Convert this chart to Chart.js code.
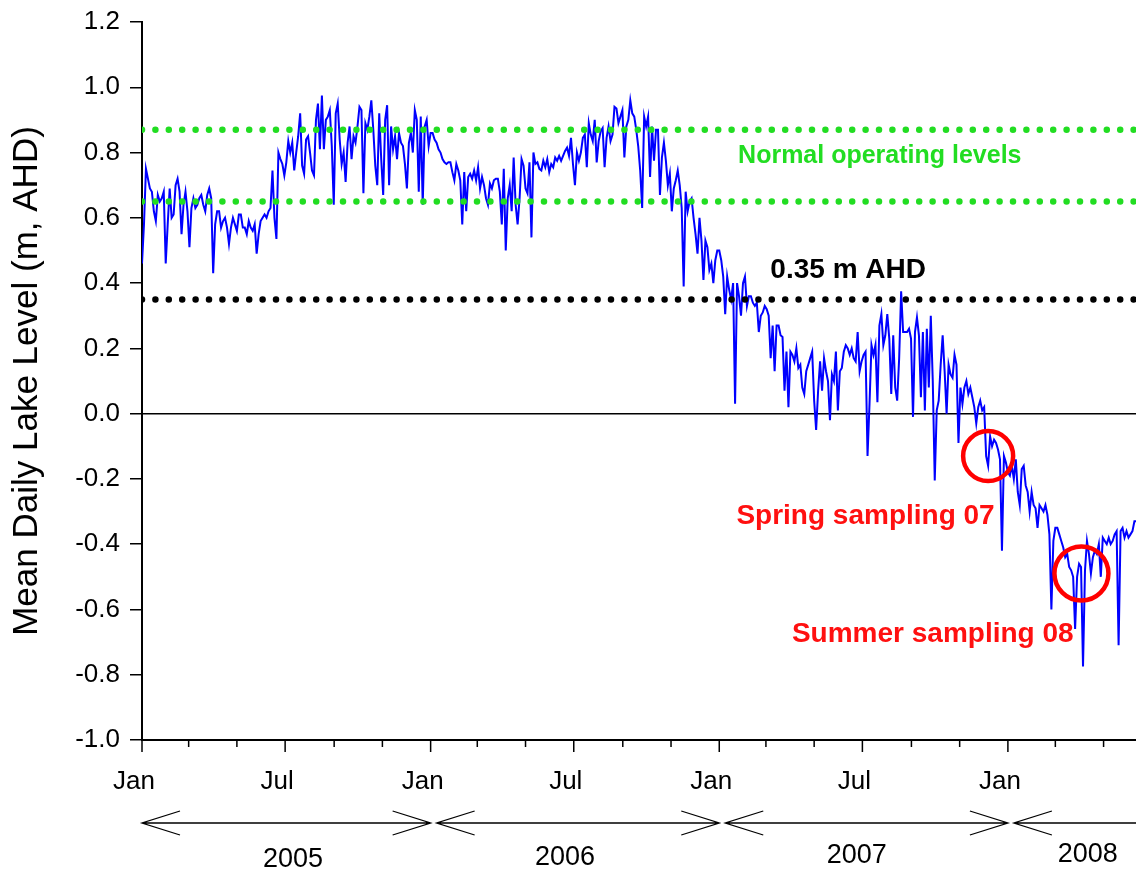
<!DOCTYPE html>
<html>
<head>
<meta charset="utf-8">
<script src="https://cdn.jsdelivr.net/npm/chart.js@4.4.1/dist/chart.umd.min.js"></script>
<style>
  html, body { margin: 0; padding: 0; background: #fff; }
</style>
</head>
<body>
<canvas id="lakeChart" width="1136" height="872"></canvas>
<script>
const stepDays = 2.5;
const lakeLevel = [
  0.46, 0.58, 0.75, 0.72, 0.69, 0.68, 0.62, 0.59, 0.67, 0.65,
  0.66, 0.68, 0.46, 0.58, 0.69, 0.60, 0.61, 0.70, 0.72, 0.68,
  0.55, 0.64, 0.68, 0.62, 0.51, 0.63, 0.66, 0.63, 0.64, 0.66,
  0.67, 0.64, 0.62, 0.67, 0.69, 0.66, 0.43, 0.58, 0.62, 0.62,
  0.57, 0.59, 0.60, 0.57, 0.52, 0.57, 0.60, 0.58, 0.56, 0.61,
  0.61, 0.57, 0.57, 0.55, 0.59, 0.57, 0.56, 0.58, 0.49, 0.55,
  0.59, 0.60, 0.61, 0.60, 0.62, 0.63, 0.745, 0.60, 0.535, 0.80,
  0.78, 0.765, 0.73, 0.77, 0.835, 0.80, 0.83, 0.745, 0.80, 0.85,
  0.92, 0.76, 0.735, 0.84, 0.85, 0.80, 0.745, 0.73, 0.90, 0.95,
  0.81, 0.975, 0.81, 0.90, 0.91, 0.93, 0.82, 0.64, 0.92, 0.95,
  0.84, 0.765, 0.80, 0.71, 0.83, 0.88, 0.78, 0.85, 0.83, 0.88,
  0.94, 0.93, 0.675, 0.89, 0.87, 0.91, 0.96, 0.87, 0.76, 0.70,
  0.92, 0.78, 0.67, 0.90, 0.945, 0.70, 0.88, 0.81, 0.85, 0.78,
  0.86, 0.83, 0.82, 0.765, 0.69, 0.83, 0.86, 0.80, 0.93, 0.90,
  0.68, 0.91, 0.64, 0.88, 0.90, 0.82, 0.86, 0.86, 0.84, 0.83,
  0.81, 0.80, 0.78, 0.77, 0.765, 0.77, 0.77, 0.74, 0.715, 0.765,
  0.745, 0.715, 0.58, 0.74, 0.62, 0.725, 0.735, 0.72, 0.745, 0.715,
  0.755, 0.69, 0.725, 0.70, 0.66, 0.64, 0.705, 0.69, 0.715, 0.72,
  0.72, 0.68, 0.58, 0.75, 0.50, 0.66, 0.70, 0.62, 0.785, 0.64,
  0.58, 0.66, 0.78, 0.76, 0.69, 0.675, 0.77, 0.54, 0.80, 0.765,
  0.77, 0.75, 0.745, 0.775, 0.755, 0.78, 0.74, 0.765, 0.755, 0.785,
  0.775, 0.79, 0.775, 0.79, 0.805, 0.815, 0.79, 0.845, 0.765, 0.70,
  0.80, 0.775, 0.80, 0.845, 0.855, 0.755, 0.89, 0.855, 0.835, 0.90,
  0.77, 0.835, 0.865, 0.875, 0.755, 0.845, 0.88, 0.835, 0.855, 0.94,
  0.935, 0.89, 0.91, 0.93, 0.785, 0.88, 0.90, 0.96, 0.92, 0.91,
  0.87, 0.82, 0.745, 0.63, 0.91, 0.88, 0.91, 0.725, 0.88, 0.775,
  0.87, 0.87, 0.67, 0.785, 0.83, 0.775, 0.70, 0.735, 0.62, 0.69,
  0.715, 0.745, 0.70, 0.63, 0.39, 0.68, 0.62, 0.65, 0.66, 0.60,
  0.55, 0.49, 0.60, 0.53, 0.41, 0.53, 0.51, 0.44, 0.46, 0.40,
  0.47, 0.50, 0.50, 0.47, 0.42, 0.305, 0.42, 0.38, 0.35, 0.40,
  0.03, 0.40, 0.36, 0.30, 0.40, 0.42, 0.33, 0.36, 0.36, 0.34,
  0.33, 0.34, 0.25, 0.30, 0.31, 0.33, 0.32, 0.30, 0.17, 0.27,
  0.13, 0.27, 0.27, 0.24, 0.235, 0.07, 0.19, 0.02, 0.19, 0.18,
  0.16, 0.20, 0.14, 0.15, 0.08, 0.06, 0.13, 0.15, 0.17, 0.19,
  0.04, -0.05, 0.07, 0.16, 0.07, 0.17, 0.13, 0.10, -0.02, 0.12,
  0.10, 0.19, 0.01, 0.13, 0.14, 0.19, 0.21, 0.20, 0.18, 0.20,
  0.17, 0.16, 0.25, 0.13, 0.16, 0.18, 0.19, -0.13, 0.03, 0.21,
  0.18, 0.21, 0.035, 0.27, 0.305, 0.21, 0.24, 0.305, 0.23, 0.06,
  0.24, 0.08, 0.04, 0.17, 0.375, 0.25, 0.25, 0.25, 0.26, 0.23,
  -0.01, 0.25, 0.295, 0.24, 0.05, 0.25, 0.01, 0.26, 0.08, 0.30,
  0.10, -0.205, 0.01, 0.04, 0.15, 0.24, 0.13, 0.0, 0.15, 0.12,
  0.11, 0.18, 0.15, -0.09, 0.08, 0.03, 0.08, 0.10, 0.06, 0.08,
  0.05, 0.02, -0.03, 0.02, 0.04, 0.01, 0.02, -0.13, -0.16, -0.07,
  -0.10, -0.08, -0.09, -0.11, -0.14, -0.42, -0.13, -0.15, -0.18, -0.19,
  -0.16, -0.20, -0.14, -0.24, -0.28, -0.17, -0.16, -0.22, -0.24, -0.30,
  -0.24, -0.28, -0.29, -0.35, -0.28, -0.29, -0.30, -0.28, -0.31, -0.37,
  -0.60, -0.39, -0.35, -0.35, -0.37, -0.39, -0.41, -0.44, -0.43, -0.47,
  -0.48, -0.50, -0.66, -0.50, -0.46, -0.47, -0.775, -0.48, -0.39, -0.43,
  -0.49, -0.44, -0.42, -0.43, -0.40, -0.50, -0.38, -0.39, -0.40, -0.38,
  -0.40, -0.39, -0.37, -0.36, -0.71, -0.36, -0.35, -0.38, -0.36, -0.38,
  -0.37, -0.36, -0.33, -0.33, -0.32
];

// x axis in days since 1 Jan 2005
const tickDays = [0, 181, 365, 546, 730, 911, 1095];
const tickLabels = ['Jan', 'Jul', 'Jan', 'Jul', 'Jan', 'Jul', 'Jan'];
const minorTickDays = [59, 120, 243, 304, 424, 485, 608, 669, 789, 850, 973, 1034, 1155, 1216];
const yearStartDays = [0, 365, 730, 1095];
const yearLabels = ['2005', '2006', '2007', '2008'];

const normalLevels = [0.87, 0.65];
const thresholdLevel = 0.35;
const samplingDays = [1070, 1188];
const samplingLevels = [-0.13, -0.49];

const lastDay = 1257;
const FONT = "'Liberation Sans', Arial, sans-serif";
Chart.defaults.font.family = FONT;
Chart.defaults.color = '#000';

function flatLine(level) {
  return [{ x: 0, y: level }, { x: lastDay, y: level }];
}

const decor = {
  id: 'decor',
  afterDraw(chart) {
    const ctx = chart.ctx;
    const xs = chart.scales.x;
    const ys = chart.scales.y;
    const bottom = chart.chartArea.bottom;
    ctx.save();
    ctx.strokeStyle = '#000';
    ctx.lineWidth = 1.5;

    // month ticks under the x axis
    ctx.beginPath();
    tickDays.forEach(d => {
      const x = xs.getPixelForValue(d);
      ctx.moveTo(x, bottom); ctx.lineTo(x, bottom + 12);
    });
    minorTickDays.forEach(d => {
      const x = xs.getPixelForValue(d);
      ctx.moveTo(x, bottom); ctx.lineTo(x, bottom + 7);
    });
    ctx.stroke();

    // year arrows
    const ay = 823;
    ctx.lineWidth = 1.3;
    ctx.beginPath();
    yearStartDays.forEach((d, i) => {
      const left = xs.getPixelForValue(d) + (i === 0 ? 0 : 6);
      const hasEnd = i + 1 < yearStartDays.length;
      const right = hasEnd ? xs.getPixelForValue(yearStartDays[i + 1]) : chart.width + 5;
      ctx.moveTo(left, ay); ctx.lineTo(right, ay);
      ctx.moveTo(left + 38, ay - 12); ctx.lineTo(left, ay); ctx.lineTo(left + 38, ay + 12);
      if (hasEnd) {
        ctx.moveTo(right - 38, ay - 12); ctx.lineTo(right, ay); ctx.lineTo(right - 38, ay + 12);
      }
    });
    ctx.stroke();

    ctx.fillStyle = '#000';
    ctx.textAlign = 'center';
    ctx.textBaseline = 'middle';
    ctx.font = '27px ' + FONT;
    const yearDays = [191, 535, 904, 1196];
    const yearY = [860, 858, 856, 855];
    yearLabels.forEach((t, i) => ctx.fillText(t, xs.getPixelForValue(yearDays[i]), yearY[i]));

    // annotations
    ctx.font = 'bold 25px ' + FONT;
    ctx.fillStyle = '#22dd22';
    ctx.fillText('Normal operating levels', xs.getPixelForValue(933), ys.getPixelForValue(0.79));
    ctx.font = 'bold 28px ' + FONT;
    ctx.fillStyle = '#000';
    ctx.fillText('0.35 m AHD', xs.getPixelForValue(893), ys.getPixelForValue(0.44));
    ctx.fillStyle = '#ff1010';
    ctx.fillText('Spring sampling 07', xs.getPixelForValue(915), ys.getPixelForValue(-0.315));
    ctx.fillText('Summer sampling 08', xs.getPixelForValue(1000), ys.getPixelForValue(-0.675));
    ctx.restore();
  }
};

new Chart(document.getElementById('lakeChart'), {
  type: 'line',
  data: {
    datasets: [
      {
        data: samplingDays.map((d, i) => ({ x: d, y: samplingLevels[i] })),
        showLine: false,
        pointRadius: [25, 27],
        pointBorderWidth: 4.5,
        pointBorderColor: '#ff0000',
        pointBackgroundColor: 'rgba(0,0,0,0)'
      },
      ...normalLevels.map(l => ({
        data: flatLine(l),
        borderColor: '#22dd22',
        borderWidth: 6.5,
        borderDash: [0, 13.4],
        borderCapStyle: 'round',
        pointRadius: 0
      })),
      {
        data: flatLine(thresholdLevel),
        borderColor: '#000',
        borderWidth: 6.5,
        borderDash: [0, 13.4],
        borderCapStyle: 'round',
        pointRadius: 0
      },
      {
        data: lakeLevel.map((v, i) => ({ x: i * stepDays, y: v })),
        borderColor: '#0000ff',
        borderWidth: 2,
        pointRadius: 0,
        tension: 0
      }
    ]
  },
  options: {
    responsive: false,
    animation: false,
    devicePixelRatio: 1,
    layout: { autoPadding: false, padding: { top: 22, right: 0, bottom: 0, left: 0 } },
    plugins: { legend: { display: false }, tooltip: { enabled: false } },
    scales: {
      x: {
        type: 'linear',
        min: 0,
        max: lastDay,
        afterBuildTicks: s => { s.ticks = tickDays.map(v => ({ value: v })); },
        afterFit: s => { s.height = 132; s.paddingRight = 0; s.paddingLeft = 0; },
        grid: { drawOnChartArea: false, drawTicks: false },
        border: { display: true, color: '#000', width: 2 },
        ticks: {
          autoSkip: false,
          maxRotation: 0,
          padding: 26,
          labelOffset: -8,
          font: { size: 26 },
          callback: (v, i) => tickLabels[i]
        }
      },
      y: {
        min: -1,
        max: 1.2,
        afterFit: s => { s.width = 142; s.paddingTop = 0; s.paddingBottom = 0; },
        grid: {
          color: c => Math.abs(c.tick.value) < 1e-9 ? '#000' : 'rgba(0,0,0,0)',
          lineWidth: 1.5,
          tickLength: 12,
          tickColor: '#000',
          tickWidth: 1.5
        },
        border: { display: true, color: '#000', width: 2 },
        ticks: {
          stepSize: 0.2,
          padding: 10,
          font: { size: 26 },
          callback: v => v.toFixed(1)
        },
        title: {
          display: true,
          text: 'Mean Daily Lake Level (m, AHD)',
          font: { size: 35 },
          padding: { top: 6, bottom: 0 }
        }
      }
    }
  },
  plugins: [decor]
});
</script>
</body>
</html>
